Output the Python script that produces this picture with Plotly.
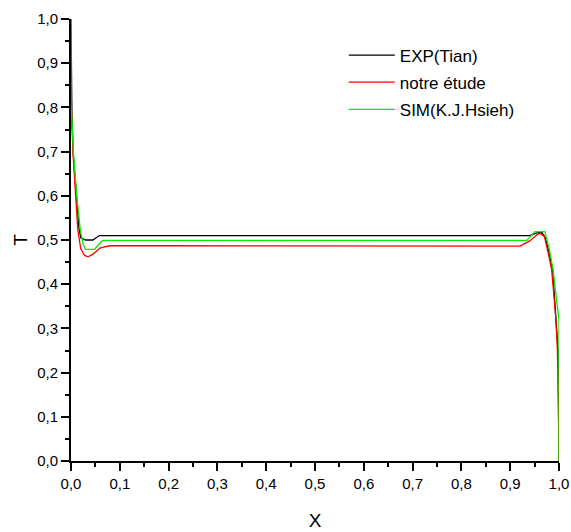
import plotly.graph_objects as go

# Temperature profiles T(X) along the wall
x_exp = [0.0, 0.002, 0.0045, 0.011, 0.016, 0.02, 0.03, 0.045, 0.058, 0.1, 0.3, 0.5, 0.7, 0.9, 0.94,
         0.955, 0.965, 0.972, 0.98, 0.987, 0.994, 0.997, 0.998, 1.0]
t_exp = [1.0, 0.771, 0.697, 0.598, 0.53, 0.505, 0.50, 0.50, 0.51, 0.51, 0.51, 0.51, 0.51, 0.51, 0.51,
         0.516, 0.517, 0.505, 0.47, 0.432, 0.33, 0.274, 0.25, 0.0]

x_etude = [0.001, 0.002, 0.004, 0.009, 0.014, 0.02, 0.028, 0.035, 0.045, 0.06, 0.08, 0.2, 0.5, 0.8,
           0.9, 0.92, 0.94, 0.955, 0.961, 0.97, 0.978, 0.985, 0.993, 0.996, 0.998, 1.0]
t_etude = [0.79, 0.771, 0.697, 0.598, 0.523, 0.48, 0.465, 0.462, 0.468, 0.482, 0.487, 0.487, 0.486,
           0.486, 0.485, 0.486, 0.498, 0.512, 0.515, 0.508, 0.47, 0.432, 0.33, 0.274, 0.2, 0.0]

x_sim = [0.0, 0.0, 0.002, 0.005, 0.012, 0.019, 0.025, 0.03, 0.048, 0.065, 0.2, 0.5, 0.8, 0.934,
         0.951, 0.971, 0.98, 0.988, 0.995, 1.0, 1.0]
t_sim = [1.0, 0.8, 0.771, 0.697, 0.598, 0.523, 0.49, 0.479, 0.479, 0.499, 0.499, 0.499, 0.499, 0.499,
         0.519, 0.519, 0.48, 0.432, 0.364, 0.32, 0.0]

series_names = ["EXP(Tian)", "notre étude", "SIM(K.J.Hsieh)"]
series_colors = ["#000000", "#ff0000", "#00ee00"]

tick_vals = [i / 10 for i in range(11)]
tick_text = ["0,0", "0,1", "0,2", "0,3", "0,4", "0,5", "0,6", "0,7", "0,8", "0,9", "1,0"]

FONT = "Arial, Liberation Sans, sans-serif"

fig = go.Figure()
for xs, ts, name, color in zip([x_exp, x_etude, x_sim], [t_exp, t_etude, t_sim],
                               series_names, series_colors):
    fig.add_trace(go.Scatter(x=xs, y=ts, mode="lines", name=name, legendgroup=name,
                             line=dict(color=color, width=1.3)))

axis_common = dict(
    range=[0, 1],
    tickvals=tick_vals,
    ticktext=tick_text,
    ticks="outside",
    ticklen=8,
    tickwidth=1.5,
    tickcolor="#000",
    showline=True,
    linecolor="#000",
    linewidth=2,
    showgrid=False,
    zeroline=False,
    mirror=False,
    automargin=False,
    tickfont=dict(family=FONT, size=15, color="#000"),
    minor=dict(dtick=0.05, tick0=0, ticks="outside", ticklen=4, tickwidth=1.5, tickcolor="#000",
               showgrid=False),
)

fig.update_xaxes(**axis_common, title=dict(text="X", font=dict(family=FONT, size=19, color="#000"),
                                           standoff=23))
fig.update_yaxes(**axis_common, title=dict(text="T", font=dict(family=FONT, size=19, color="#000"),
                                           standoff=4))

fig.update_layout(
    width=571,
    height=532,
    margin=dict(l=71, r=12, t=19, b=71),
    plot_bgcolor="white",
    paper_bgcolor="white",
    font=dict(family=FONT, color="#000"),
    legend=dict(
        x=0.559, y=0.958, xanchor="left", yanchor="top",
        font=dict(family=FONT, size=17, color="#000"),
        bgcolor="rgba(0,0,0,0)",
        itemwidth=46,
        tracegroupgap=2,
    ),
)

fig.write_html("out.html")
